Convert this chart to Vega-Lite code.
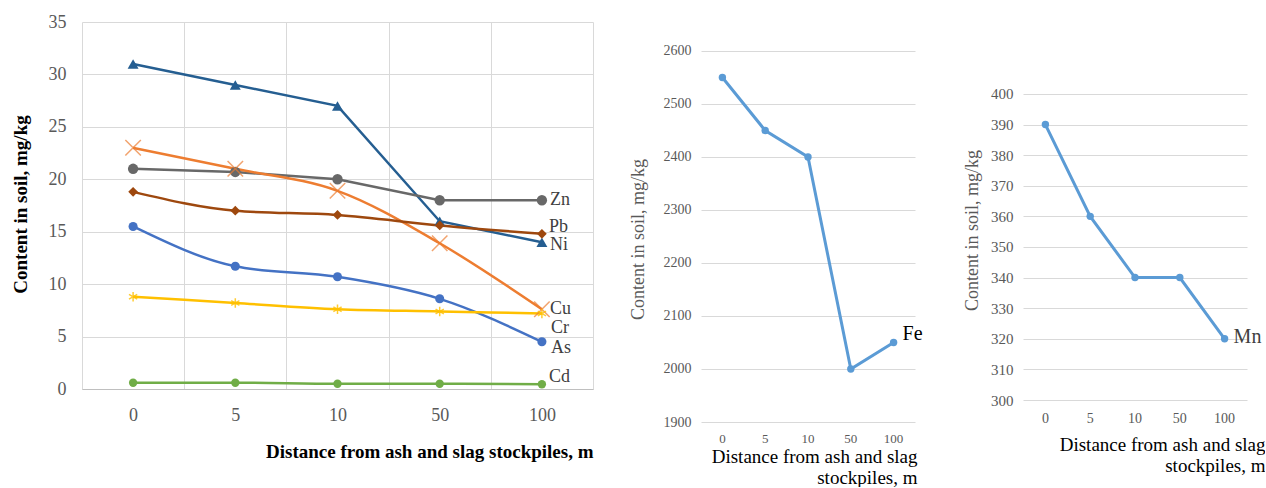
{
  "$schema": "https://vega.github.io/schema/vega-lite/v6.json",
  "padding": {"left": 11, "top": 13, "right": 0, "bottom": 0},
  "bounds": "flush",
  "spacing": 108,
  "background": "white",
  "config": {
    "view": {"stroke": null},
    "font": "Liberation Serif",
    "text": {"font": "Liberation Serif"},
    "axis": {"labelFont": "Liberation Serif", "titleFont": "Liberation Serif", "labelColor": "#595959", "ticks": false, "domain": false, "gridColor": "#d9d9d9", "gridWidth": 1}
  },
  "datasets": {
    "left": [
      {"distance": 0, "element": "Ni", "value": 31}, {"distance": 5, "element": "Ni", "value": 29}, {"distance": 10, "element": "Ni", "value": 27}, {"distance": 50, "element": "Ni", "value": 16}, {"distance": 100, "element": "Ni", "value": 14},
      {"distance": 0, "element": "Cu", "value": 23}, {"distance": 5, "element": "Cu", "value": 21}, {"distance": 10, "element": "Cu", "value": 18.9}, {"distance": 50, "element": "Cu", "value": 13.9}, {"distance": 100, "element": "Cu", "value": 7.6},
      {"distance": 0, "element": "Zn", "value": 21}, {"distance": 5, "element": "Zn", "value": 20.7}, {"distance": 10, "element": "Zn", "value": 20}, {"distance": 50, "element": "Zn", "value": 18}, {"distance": 100, "element": "Zn", "value": 18},
      {"distance": 0, "element": "Pb", "value": 18.8}, {"distance": 5, "element": "Pb", "value": 17}, {"distance": 10, "element": "Pb", "value": 16.6}, {"distance": 50, "element": "Pb", "value": 15.6}, {"distance": 100, "element": "Pb", "value": 14.8},
      {"distance": 0, "element": "As", "value": 15.5}, {"distance": 5, "element": "As", "value": 11.7}, {"distance": 10, "element": "As", "value": 10.7}, {"distance": 50, "element": "As", "value": 8.6}, {"distance": 100, "element": "As", "value": 4.5},
      {"distance": 0, "element": "Cr", "value": 8.8}, {"distance": 5, "element": "Cr", "value": 8.2}, {"distance": 10, "element": "Cr", "value": 7.6}, {"distance": 50, "element": "Cr", "value": 7.4}, {"distance": 100, "element": "Cr", "value": 7.2},
      {"distance": 0, "element": "Cd", "value": 0.6}, {"distance": 5, "element": "Cd", "value": 0.6}, {"distance": 10, "element": "Cd", "value": 0.5}, {"distance": 50, "element": "Cd", "value": 0.5}, {"distance": 100, "element": "Cd", "value": 0.45}
    ],
    "fe": [
      {"distance": 0, "element": "Fe", "value": 2550}, {"distance": 5, "element": "Fe", "value": 2450}, {"distance": 10, "element": "Fe", "value": 2400}, {"distance": 50, "element": "Fe", "value": 2000}, {"distance": 100, "element": "Fe", "value": 2050}
    ],
    "mn": [
      {"distance": 0, "element": "Mn", "value": 390}, {"distance": 5, "element": "Mn", "value": 360}, {"distance": 10, "element": "Mn", "value": 340}, {"distance": 50, "element": "Mn", "value": 340}, {"distance": 100, "element": "Mn", "value": 320}
    ]
  },
  "hconcat": [
    {
      "width": 511,
      "height": 367,
      "data": {"name": "left"},
      "encoding": {
        "x": {"field": "distance", "type": "ordinal", "scale": {"type": "band", "paddingInner": 0, "paddingOuter": 0},
          "axis": {"title": "Distance from ash and slag stockpiles, m", "tickBand": "extent", "grid": true, "domain": true, "domainColor": "#bfbfbf", "labelAngle": 0, "labelPadding": 17, "labelFont": "Liberation Serif", "labelFontSize": 18, "titleFont": "Liberation Serif", "titleFontSize": 19, "titleFontWeight": "bold", "titleColor": "black", "titleAnchor": "end", "titleAlign": "right", "titleX": 511, "titleY": 53, "titleBaseline": "top"}},
        "y": {"field": "value", "type": "quantitative", "scale": {"domain": [0, 35], "nice": false, "zero": true},
          "axis": {"values": [0, 5, 10, 15, 20, 25, 30, 35], "format": "d", "grid": true, "labelPadding": 16, "labelFont": "Liberation Serif", "labelFontSize": 18, "title": "Content in soil, mg/kg", "titleFont": "Liberation Serif", "titleFontSize": 19, "titleFontWeight": "bold", "titleColor": "black", "titleAngle": 270, "titleAlign": "center", "titleBaseline": "middle", "titleX": -62, "titleY": 182}},
        "color": {"field": "element", "type": "nominal", "legend": null,
          "scale": {"domain": ["Ni", "Cu", "Zn", "Pb", "As", "Cr", "Cd"], "range": ["#255E91", "#ED7D31", "#686868", "#9E480E", "#4472C4", "#FFC000", "#70AD47"]}}
      },
      "layer": [
        {"transform": [{"filter": {"field": "element", "oneOf": ["Ni", "Zn"]}}], "mark": {"type": "line", "strokeWidth": 2.5}},
        {"transform": [{"filter": {"field": "element", "oneOf": ["Cu", "Pb", "As", "Cr", "Cd"]}}], "mark": {"type": "line", "strokeWidth": 2.5, "interpolate": "monotone"}},
        {"transform": [{"filter": {"field": "element", "oneOf": ["Ni", "Zn", "Pb", "As", "Cd"]}}], "mark": {"type": "point", "filled": true, "opacity": 1},
          "encoding": {
            "shape": {"field": "element", "type": "nominal", "legend": null, "scale": {"domain": ["Ni", "Zn", "Pb", "As", "Cd"], "range": ["triangle-up", "circle", "diamond", "circle", "circle"]}},
            "size": {"field": "element", "type": "nominal", "legend": null, "scale": {"domain": ["Ni", "Zn", "Pb", "As", "Cd"], "range": [120, 70, 90, 70, 70]}}
          }},
        {"transform": [{"filter": {"field": "element", "equal": "Cu"}}], "mark": {"type": "point", "shape": "M-1,-1L1,1M1,-1L-1,1", "filled": false, "strokeWidth": 1.5, "size": 240, "opacity": 0.7}},
        {"transform": [{"filter": {"field": "element", "equal": "Cr"}}], "mark": {"type": "point", "shape": "M0,-1L0,1M-0.87,-0.5L0.87,0.5M-0.87,0.5L0.87,-0.5", "filled": false, "strokeWidth": 1.5, "size": 90, "opacity": 0.8}},
        {"transform": [{"filter": {"field": "distance", "equal": 100}}, {"filter": {"field": "element", "oneOf": ["Zn", "Cu"]}}], "mark": {"type": "text", "font": "Liberation Serif", "align": "left", "baseline": "middle", "dx": 8, "dy": 0, "fontSize": 18}, "encoding": {"text": {"field": "element"}, "color": {"value": "#404040"}}},
        {"transform": [{"filter": {"field": "distance", "equal": 100}}, {"filter": {"field": "element", "equal": "Ni"}}], "mark": {"type": "text", "font": "Liberation Serif", "align": "left", "baseline": "middle", "dx": 8, "dy": 3, "fontSize": 18}, "encoding": {"text": {"field": "element"}, "color": {"value": "#404040"}}},
        {"transform": [{"filter": {"field": "distance", "equal": 100}}, {"filter": {"field": "element", "oneOf": ["Pb", "Cd"]}}], "mark": {"type": "text", "font": "Liberation Serif", "align": "left", "baseline": "middle", "dx": 7, "dy": -7, "fontSize": 18}, "encoding": {"text": {"field": "element"}, "color": {"value": "#404040"}}},
        {"transform": [{"filter": {"field": "distance", "equal": 100}}, {"filter": {"field": "element", "equal": "As"}}], "mark": {"type": "text", "font": "Liberation Serif", "align": "left", "baseline": "middle", "dx": 9, "dy": 6, "fontSize": 18}, "encoding": {"text": {"field": "element"}, "color": {"value": "#404040"}}},
        {"transform": [{"filter": {"field": "distance", "equal": 100}}, {"filter": {"field": "element", "equal": "Cr"}}], "mark": {"type": "text", "font": "Liberation Serif", "align": "left", "baseline": "middle", "dx": 9, "dy": 14, "fontSize": 18}, "encoding": {"text": {"field": "element"}, "color": {"value": "#404040"}}}
      ]
    },
    {
      "width": 214,
      "height": 400,
      "data": {"name": "fe"},
      "encoding": {
        "x": {"field": "distance", "type": "ordinal", "scale": {"type": "band", "paddingInner": 0, "paddingOuter": 0},
          "axis": {"title": ["Distance from ash and slag", "stockpiles, m"], "grid": false, "labelAngle": 0, "labelPadding": 10, "labelFont": "Liberation Serif", "labelFontSize": 13, "titleFont": "Liberation Serif", "titleFontSize": 19, "titleFontWeight": "normal", "titleColor": "black", "titleAnchor": "end", "titleAlign": "right", "titleX": 216, "titleY": 25, "titleBaseline": "top", "titleLineHeight": 21}},
        "y": {"field": "value", "type": "quantitative", "scale": {"domain": [1900, 2654.7], "nice": false, "zero": false},
          "axis": {"values": [1900, 2000, 2100, 2200, 2300, 2400, 2500, 2600], "format": "d", "grid": true, "labelPadding": 10, "labelFont": "Liberation Serif", "labelFontSize": 14, "title": "Content in soil, mg/kg", "titleFont": "Liberation Serif", "titleFontSize": 18, "titleFontWeight": "normal", "titleColor": "#595959", "titleAngle": 270, "titleAlign": "center", "titleBaseline": "middle", "titleX": -63, "titleY": 217}}
      },
      "layer": [
        {"mark": {"type": "line", "strokeWidth": 3, "color": "#5B9BD5"}},
        {"mark": {"type": "point", "filled": true, "opacity": 1, "size": 55, "color": "#5B9BD5"}},
        {"transform": [{"filter": {"field": "distance", "equal": 100}}], "mark": {"type": "text", "font": "Liberation Serif", "align": "left", "baseline": "middle", "dx": 9, "dy": -8, "fontSize": 20, "color": "black"}, "encoding": {"text": {"field": "element"}}}
      ]
    },
    {
      "width": 224,
      "height": 378,
      "data": {"name": "mn"},
      "encoding": {
        "x": {"field": "distance", "type": "ordinal", "scale": {"type": "band", "paddingInner": 0, "paddingOuter": 0},
          "axis": {"title": ["Distance from ash and slag", "stockpiles, m"], "grid": false, "labelAngle": 0, "labelPadding": 11, "labelFont": "Liberation Serif", "labelFontSize": 14, "titleFont": "Liberation Serif", "titleFontSize": 19, "titleFontWeight": "normal", "titleColor": "black", "titleAnchor": "end", "titleAlign": "right", "titleX": 242, "titleY": 35, "titleBaseline": "top", "titleLineHeight": 21}},
        "y": {"field": "value", "type": "quantitative", "scale": {"domain": [300, 423.5], "nice": false, "zero": false},
          "axis": {"values": [300, 310, 320, 330, 340, 350, 360, 370, 380, 390, 400], "format": "d", "grid": true, "labelPadding": 10, "labelFont": "Liberation Serif", "labelFontSize": 15, "title": "Content in soil, mg/kg", "titleFont": "Liberation Serif", "titleFontSize": 18, "titleFontWeight": "normal", "titleColor": "#595959", "titleAngle": 270, "titleAlign": "center", "titleBaseline": "middle", "titleX": -51, "titleY": 208}}
      },
      "layer": [
        {"mark": {"type": "line", "strokeWidth": 3, "color": "#5B9BD5"}},
        {"mark": {"type": "point", "filled": true, "opacity": 1, "size": 55, "color": "#5B9BD5"}},
        {"transform": [{"filter": {"field": "distance", "equal": 100}}], "mark": {"type": "text", "font": "Liberation Serif", "align": "left", "baseline": "middle", "dx": 9, "dy": -2, "fontSize": 20, "color": "#404040"}, "encoding": {"text": {"field": "element"}}}
      ]
    }
  ]
}
